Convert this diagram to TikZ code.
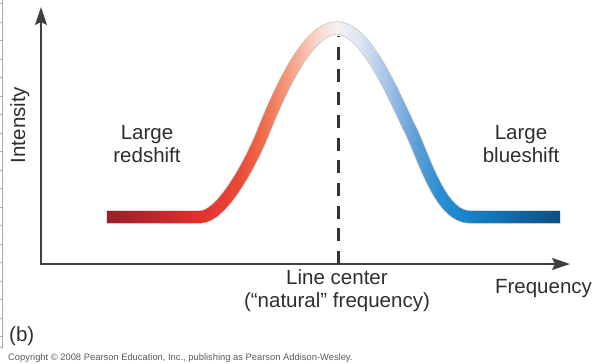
\documentclass[tikz,border=0pt]{standalone}
\usepackage{fontspec}
\setmainfont{Liberation Sans}
\usepackage{tikz}
\usetikzlibrary{arrows.meta,fadings}

\definecolor{axisgray}{HTML}{404040}
\definecolor{dashgray}{HTML}{333333}
\definecolor{textgray}{HTML}{2E2E2E}
\definecolor{rimgray}{HTML}{C4C4C4}
\definecolor{rulergray}{HTML}{A8A8A8}
\definecolor{copygray}{HTML}{5A5A5A}
\definecolor{shiftdarkred}{HTML}{9A1D27}
\definecolor{shiftred}{HTML}{E3302E}
\definecolor{shiftscarlet}{HTML}{EB4A38}
\definecolor{shiftorange}{HTML}{F0704F}
\definecolor{shiftsalmon}{HTML}{F59F85}
\definecolor{shiftpeach}{HTML}{F8D3C6}
\definecolor{shiftwhite}{HTML}{F4F2F3}
\definecolor{shiftice}{HTML}{DBE6F3}
\definecolor{shiftsky}{HTML}{A8C6E7}
\definecolor{shiftmid}{HTML}{6AA4D8}
\definecolor{shiftblue}{HTML}{2A8FD0}
\definecolor{shiftdeep}{HTML}{1682C8}
\definecolor{shiftnavy}{HTML}{0E4C80}

\pgfdeclarehorizontalshading{doppler}{100bp}{color(0bp)=(shiftdarkred); color(33.99bp)=(shiftdarkred);
  color(41.81bp)=(shiftred); color(45.17bp)=(shiftscarlet); color(47.27bp)=(shiftorange);
  color(49.37bp)=(shiftsalmon); color(51.47bp)=(shiftpeach); color(53.32bp)=(shiftwhite);
  color(55.25bp)=(shiftice); color(57.35bp)=(shiftsky); color(59.45bp)=(shiftmid);
  color(61.97bp)=(shiftblue); color(64.50bp)=(shiftdeep); color(72.06bp)=(shiftnavy); color(100bp)=(shiftnavy)}

\tikzset{
  linecurve/.style={insert path={(107,217) -- (200,217) .. controls (222,217) and (250,164) .. (262,135)
      .. controls (275,103) and (305,28) .. (337,28) .. controls (367,28) and (396,101) .. (410,129)
      .. controls (424,157) and (440,217) .. (470,217) -- (560,217)}},
  bigtext/.style={font=\fontsize{20.6}{23.1}\selectfont, text=textgray, inner sep=0pt},
  axisline/.style={axisgray, line width=1.5bp},
  axistip/.tip={Stealth[length=18bp,width=12bp,inset=3bp]},
  dashline/.style={dashgray, line width=3bp, dash pattern=on 13bp off 9.7bp},
}

% box kept symmetric round the origin, so the fading sits where it is drawn
\begin{tikzfadingfrompicture}[name=bandfade, x=1bp, y=-1bp]
  \path (-595,-363) rectangle (595,363);
  \draw[transparent!0, line width=12bp, linecurve];
\end{tikzfadingfrompicture}

\begin{document}
\begin{tikzpicture}[x=1bp, y=-1bp]
  \useasboundingbox (0,0) rectangle (595,363);
  % page edge
  \draw[rulergray, line width=0.8bp] (2.7,0) -- (2.7,347) -- (0,347);
  \foreach \t in {0,...,18}
    \draw[rulergray, line width=0.8bp] (0,3.7+18.5*\t) -- (2.7,3.7+18.5*\t);
  % axes
  \coordinate (ytip) at (41,7);
  \coordinate (xtip) at (570,264);
  \draw[axisline, axistip-axistip] (ytip) |- (xtip);
  % line center
  \coordinate (peakfoot) at (338,36);
  \coordinate (axisfoot) at (338,264);
  \draw[dashline] (axisfoot) -- (peakfoot);
  % profile
  \draw[rimgray, line width=13.3bp, linecurve];
  \shade[shading=doppler, path fading=bandfade, fit fading=false] (0,0) rectangle (595,363);
  % labels
      \draw (147,144) node[bigtext, align=center] (redlabel) {Large\\redshift};
      \draw (521,144) node[bigtext, align=center] (bluelabel) {Large\\blueshift};
  \draw (337,291) node[bigtext, align=center] (centerlabel) {Line center\\(“natural” frequency)};
  \draw (543.5,293) node[bigtext, anchor=base] (freqlabel) {Frequency};
  \draw (25,125) node[bigtext, anchor=base, rotate=90] (intlabel) {Intensity};
  \draw (9,341) node[bigtext, anchor=base west] (partlabel) {(b)};
  \draw (8,360) node[font=\fontsize{9.4}{11}\selectfont, text=copygray, inner sep=0pt, anchor=base west] (copylabel)
    {Copyright © 2008 Pearson Education, Inc., publishing as Pearson Addison-Wesley.};
\end{tikzpicture}
\end{document}
